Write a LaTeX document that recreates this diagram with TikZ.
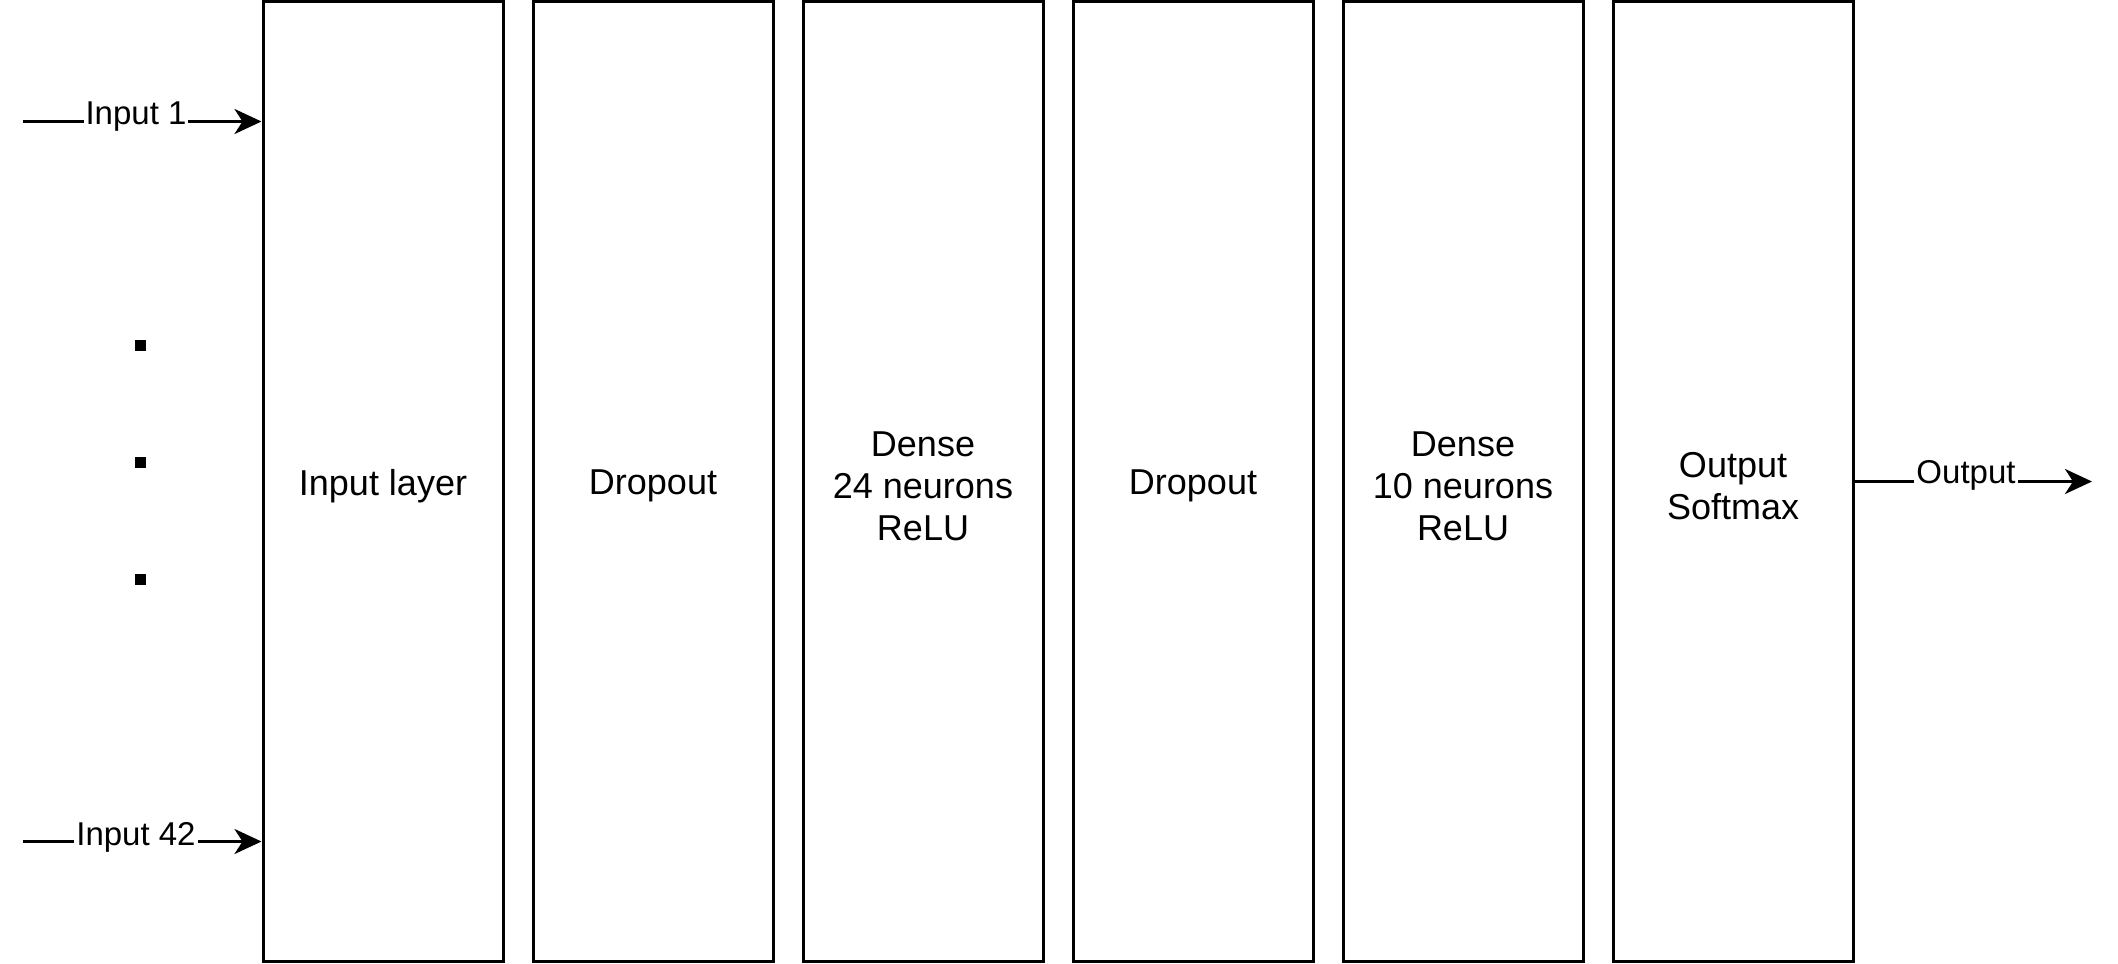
\documentclass[tikz,border=0pt]{standalone}
\usepackage{fontspec}
\setmainfont{Liberation Sans}
\usetikzlibrary{arrows.meta}
\tikzset{
  layer/.style={draw=black, line width=1.5pt, minimum width=120pt, minimum height=480pt, inner sep=0pt},
  txt/.style={align=center, yshift=-2.2pt, inner sep=0pt, font=\fontsize{18}{21}\selectfont},
  arr/.style={line width=1.5pt, -{Stealth[length=13.5pt, width=12.5pt, inset=4pt]}},
  lbl/.style={fill=white, inner xsep=1pt, inner ysep=1pt, anchor=base, font=\fontsize{16.5}{19.8}\selectfont},
  dot/.style={fill=black, minimum size=5.5pt, inner sep=0pt}
}
\begin{document}
\begin{tikzpicture}[x=0.5pt, y=-0.5pt]
\useasboundingbox (0,0) rectangle (2118,963);
\node[layer, label={[txt]center:Input layer}] (l1) at (383,481.5) {};
\node[layer, label={[txt]center:Dropout}] (l2) at (653,481.5) {};
\node[layer, label={[txt]center:{Dense\\24 neurons\\ReLU}}] (l3) at (923,481.5) {};
\node[layer, label={[txt]center:Dropout}] (l4) at (1193,481.5) {};
\node[layer, label={[txt]center:{Dense\\10 neurons\\ReLU}}] (l5) at (1463,481.5) {};
\node[layer, label={[txt]center:{Output\\Softmax}}] (l6) at (1733,481.5) {};
\coordinate (s1) at (22.5,121.5);
\coordinate (s2) at (22.5,841.5);
\coordinate (e1) at (2092,481.5);
\draw[arr] (s1) -- (l1.west |- s1);
\draw[arr] (s2) -- (l1.west |- s2);
\draw[arr] (l6.east) -- (e1);
\node[lbl] (t1) at (136,125) {Input 1};
\node[lbl] (t2) at (136,845) {Input 42};
\node[lbl] (t3) at (1966,483) {Output};
\node[dot] (d1) at (140.5,345) {};
\node[dot] (d2) at (140.5,462.5) {};
\node[dot] (d3) at (140.5,579.5) {};
\end{tikzpicture}
\end{document}
